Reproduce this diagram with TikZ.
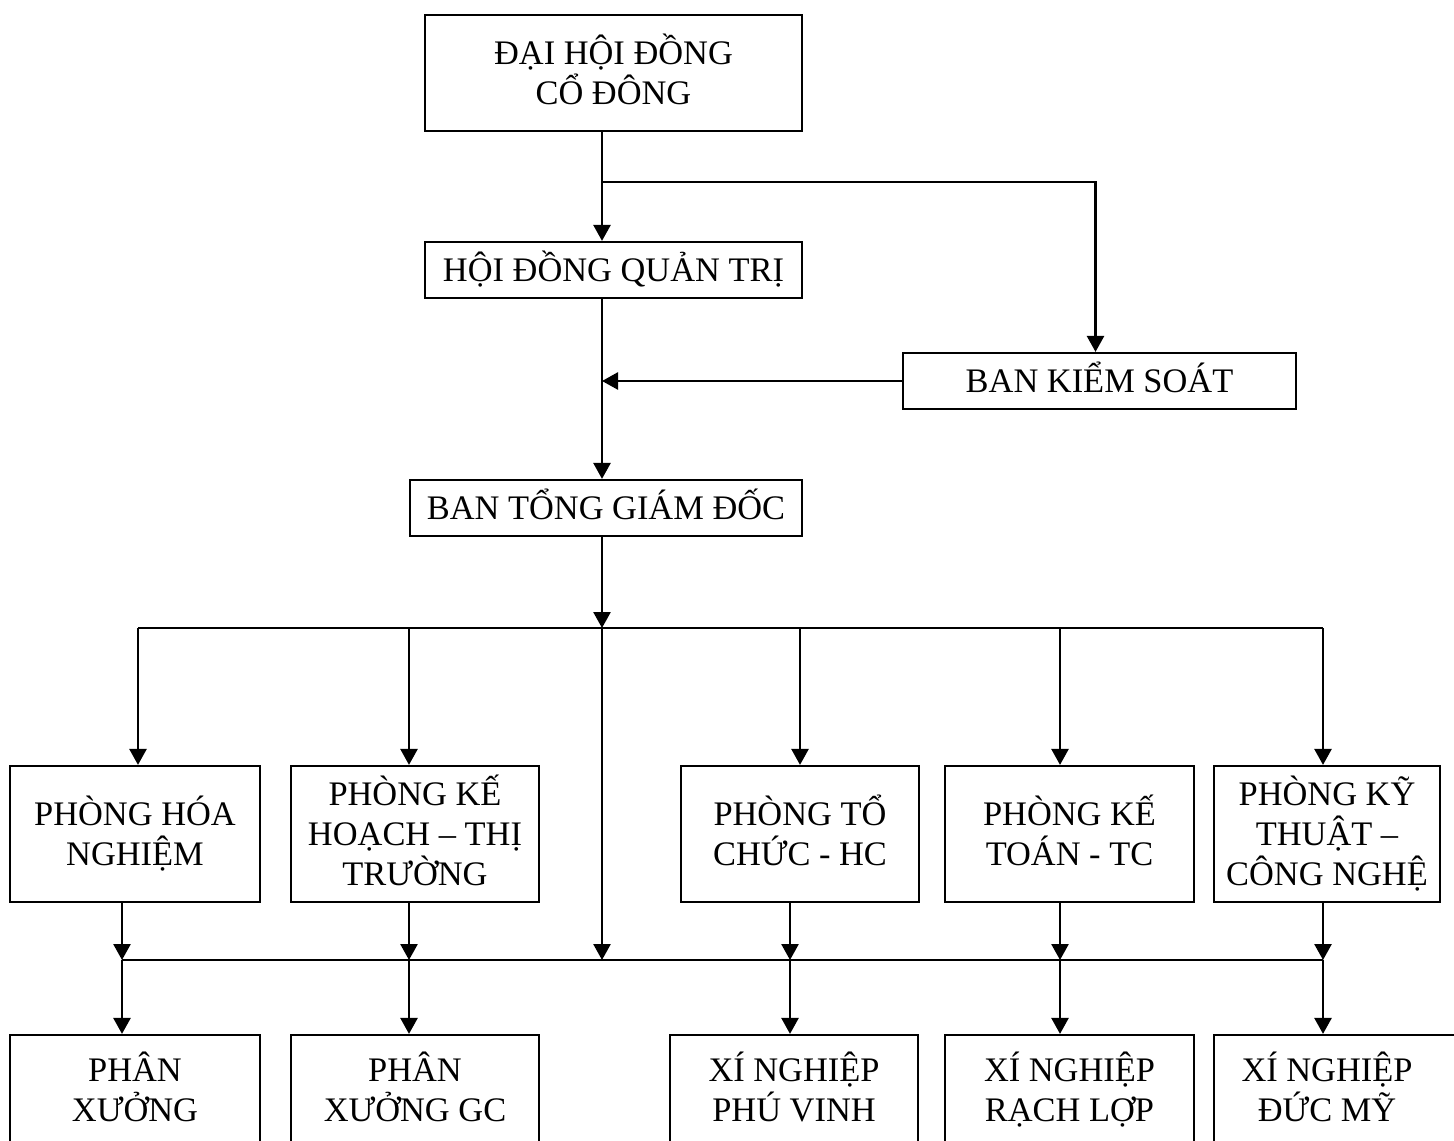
\documentclass[tikz,border=0pt]{standalone}
\usepackage{fontspec}
\setmainfont{Liberation Serif}
\usetikzlibrary{arrows.meta}
\newcommand\hs{\rule{0pt}{16pt}}
\newcommand\ds{\rule[-5pt]{0pt}{5pt}}
\begin{document}
\begin{tikzpicture}[x=0.5pt,y=-0.5pt,
  box/.style={draw,line width=1.1pt,inner sep=0pt,align=center,font=\fontsize{17.2}{20}\selectfont},
  lbl/.style={inner sep=0pt,align=center,font=\fontsize{17.2}{20}\selectfont},
  ln/.style={line width=1.3pt},
  arr/.style={line width=1.3pt,-{Triangle[width=8.5pt,length=8pt]}}]
\useasboundingbox (0,0) rectangle (1454,1140);
\clip (0,0) rectangle (1454,1140);
% top boxes
\node[box,minimum width=188.5pt,minimum height=58pt] (dh) at (613.5,73) {\hs ĐẠI HỘI ĐỒNG\\CỔ ĐÔNG\ds};
\node[box,minimum width=188.5pt,minimum height=28pt] (hd) at (613.5,270) {\hs HỘI ĐỒNG QUẢN TRỊ\ds};
\node[box,minimum width=196.5pt,minimum height=28pt] (bks) at (1099.5,381) {\hs BAN KIỂM SOÁT\ds};
\node[box,minimum width=196pt,minimum height=28pt] (bt) at (606,508) {\hs BAN TỔNG GIÁM ĐỐC\ds};
% departments
\node[box,minimum width=125pt,minimum height=68pt] (p1) at (135,834) {\hs PHÒNG HÓA\\NGHIỆM\ds};
\node[box,minimum width=124pt,minimum height=68pt] (p2) at (415,834) {\hs PHÒNG KẾ\\HOẠCH – THỊ\\TRƯỜNG\ds};
\node[box,minimum width=119pt,minimum height=68pt] (p3) at (800,834) {\hs PHÒNG TỔ\\CHỨC - HC\ds};
\node[box,minimum width=124.5pt,minimum height=68pt] (p4) at (1069.5,834) {\hs PHÒNG KẾ\\TOÁN - TC\ds};
\node[box,minimum width=113pt,minimum height=68pt] (p5) at (1327,834) {\hs PHÒNG KỸ\\THUẬT –\\CÔNG NGHỆ\ds};
% bottom units (cut off by the page edge)
\node[box,minimum width=125pt,minimum height=72.5pt] (b1) at (135,1107.5) {};
\node[box,minimum width=124pt,minimum height=72.5pt] (b2) at (415,1107.5) {};
\node[box,minimum width=124pt,minimum height=72.5pt] (b3) at (794,1107.5) {};
\node[box,minimum width=124.5pt,minimum height=72.5pt] (b4) at (1069.5,1107.5) {};
\node[box,minimum width=143pt,minimum height=72.5pt] (b5) at (1357,1107.5) {};
\node[lbl] (b1t) at (135,1090) {\hs PHÂN\\XƯỞNG\ds};
\node[lbl] (b2t) at (415,1090) {\hs PHÂN\\XƯỞNG GC\ds};
\node[lbl] (b3t) at (794,1090) {\hs XÍ NGHIỆP\\PHÚ VINH\ds};
\node[lbl] (b4t) at (1069.5,1090) {\hs XÍ NGHIỆP\\RẠCH LỢP\ds};
\node[lbl] (b5t) at (1327,1090) {\hs XÍ NGHIỆP\\ĐỨC MỸ\ds};
% junctions
\coordinate (m) at (602,0);
\coordinate (j1) at (602,182);
\coordinate (j2) at (602,381);
\coordinate (j3) at (602,628);
\coordinate (j4) at (602,960);
\coordinate (a1) at (138,628);
\coordinate (a2) at (409,628);
\coordinate (a3) at (800,628);
\coordinate (a4) at (1060,628);
\coordinate (a5) at (1323,628);
\coordinate (d1) at (122,960);
\coordinate (d2) at (409,960);
\coordinate (d3) at (790,960);
\coordinate (d4) at (1060,960);
\coordinate (d5) at (1323,960);
% connectors
\draw[arr] (dh.south -| m) -- (hd.north -| m);
\draw[arr] (j1) -| ([xshift=-2pt]bks.north);
\draw[arr] (hd.south -| m) -- (bt.north -| m);
\draw[arr] (bks.west) -- (j2);
\draw[arr] (bt.south -| m) -- (j3);
\draw[ln] (a1) -- (a5);
\draw[arr] (a1) -- (a1 |- p1.north);
\draw[arr] (a2) -- (a2 |- p2.north);
\draw[arr] (a3) -- (a3 |- p3.north);
\draw[arr] (a4) -- (a4 |- p4.north);
\draw[arr] (a5) -- (a5 |- p5.north);
\draw[arr] (j3) -- (j4);
\draw[ln] (d1) -- (d5);
\draw[arr] (d1 |- p1.south) -- (d1);
\draw[arr] (d2 |- p2.south) -- (d2);
\draw[arr] (d3 |- p3.south) -- (d3);
\draw[arr] (d4 |- p4.south) -- (d4);
\draw[arr] (d5 |- p5.south) -- (d5);
\draw[arr] (d1) -- (d1 |- b1.north);
\draw[arr] (d2) -- (d2 |- b2.north);
\draw[arr] (d3) -- (d3 |- b3.north);
\draw[arr] (d4) -- (d4 |- b4.north);
\draw[arr] (d5) -- (d5 |- b5.north);
\end{tikzpicture}
\end{document}
